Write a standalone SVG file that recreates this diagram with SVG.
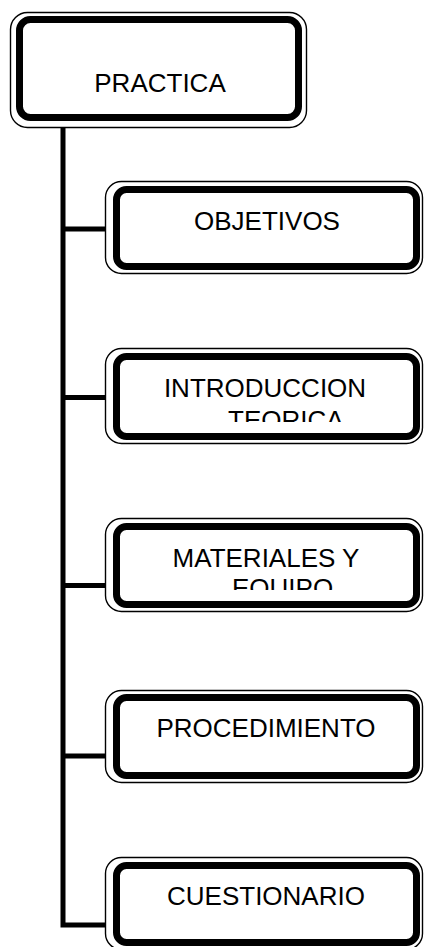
<svg xmlns="http://www.w3.org/2000/svg" width="425" height="947" viewBox="0 0 425 947">
<style>
.o{fill:#fff;stroke:#000;stroke-width:1.4}
.t{fill:none;stroke:#000;stroke-width:7}
.c{fill:none;stroke:#000;stroke-width:5;stroke-linejoin:miter;stroke-linecap:butt}
text{font-family:"Liberation Sans",Arial,sans-serif;font-size:26px;fill:#000}
</style>
<defs>
<clipPath id="clipIntro"><rect x="120" y="350" width="293" height="72"/></clipPath>
<clipPath id="clipMat"><rect x="120" y="520" width="293" height="70"/></clipPath>
</defs>
<rect width="425" height="947" fill="#fff"/>
<g id="connectors">
<path class="c" d="M63,122 V925 H106"/>
<path class="c" d="M63,229 H106"/>
<path class="c" d="M63,397.5 H106"/>
<path class="c" d="M63,585.5 H106"/>
<path class="c" d="M63,756 H106"/>
</g>
<g id="practica">
<rect class="o" x="10.5" y="12.5" width="296" height="115" rx="17"/>
<rect class="t" x="19.5" y="19.5" width="279" height="98" rx="11"/>
<text x="160" y="92" text-anchor="middle">PRACTICA</text>
</g>
<g id="objetivos">
<rect class="o" x="105.5" y="181.5" width="317" height="92" rx="16"/>
<rect class="t" x="116.5" y="189.5" width="300" height="77" rx="10"/>
<text x="267" y="230" text-anchor="middle">OBJETIVOS</text>
</g>
<g id="introduccion">
<rect class="o" x="105.5" y="348.5" width="317" height="95" rx="16"/>
<rect class="t" x="116.5" y="356.5" width="300" height="80" rx="10"/>
<g clip-path="url(#clipIntro)">
<text x="265" y="397" text-anchor="middle">INTRODUCCION</text>
<text x="228" y="428.5">TEORICA</text>
</g>
</g>
<g id="materiales">
<rect class="o" x="105.5" y="518.5" width="317" height="93" rx="16"/>
<rect class="t" x="116.5" y="526.5" width="300" height="78" rx="10"/>
<g clip-path="url(#clipMat)">
<text x="266" y="567" text-anchor="middle">MATERIALES Y</text>
<text x="232" y="597">EQUIPO</text>
</g>
</g>
<g id="procedimiento">
<rect class="o" x="105.5" y="690.5" width="317" height="92" rx="16"/>
<rect class="t" x="116.5" y="697.5" width="300" height="78" rx="10"/>
<text x="266" y="737" text-anchor="middle">PROCEDIMIENTO</text>
</g>
<g id="cuestionario">
<rect class="o" x="105.5" y="857.5" width="317" height="92" rx="16"/>
<rect class="t" x="116.5" y="865.5" width="300" height="77" rx="10"/>
<text x="266" y="905" text-anchor="middle">CUESTIONARIO</text>
</g>
</svg>
